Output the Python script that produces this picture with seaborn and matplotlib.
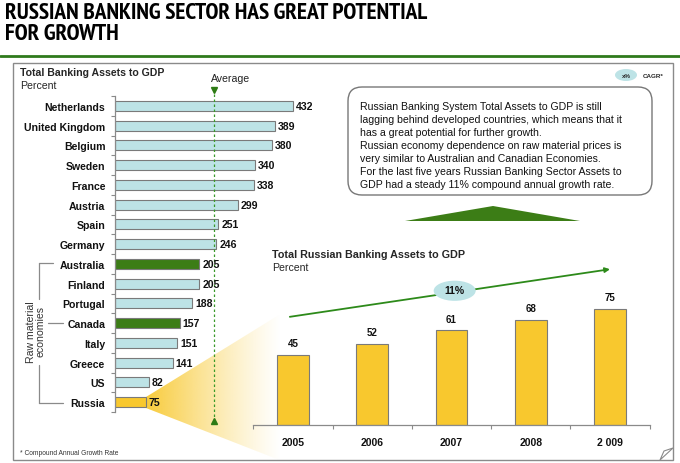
import numpy as np
import matplotlib
matplotlib.use('Agg')
import matplotlib.pyplot as plt
import seaborn as sns
from matplotlib.patches import Ellipse, FancyBboxPatch, Rectangle, Polygon
from matplotlib import font_manager

# data
countries = ['Netherlands', 'United Kingdom', 'Belgium', 'Sweden', 'France', 'Austria',
             'Spain', 'Germany', 'Australia', 'Finland', 'Portugal', 'Canada', 'Italy',
             'Greece', 'US', 'Russia']
assets_gdp = [432, 389, 380, 340, 338, 299, 251, 246, 205, 205, 188, 157, 151, 141, 82, 75]
raw_material = ['Australia', 'Canada']
average_value = 240

years = ['2005', '2006', '2007', '2008', '2 009']
russia_assets = [45, 52, 61, 68, 75]
cagr_label = '11%'

sns.set_style('white')
plt.rcParams['font.family'] = ['Liberation Sans', 'DejaVu Sans']

# condensed bold face for the headline, if one is installed
bold_faces = {f.name for f in font_manager.fontManager.ttflist if f.weight in (700, 'bold')}
narrow = 'Liberation Sans'
for cand in ['Liberation Sans Narrow', 'Arial Narrow', 'Archivo Narrow', 'PT Sans Narrow',
             'Roboto Condensed', 'Open Sans Condensed', 'IBM Plex Sans Condensed',
             'Sofia Sans Condensed', 'Barlow Condensed']:
    if cand in bold_faces:
        narrow = cand
        break

BLUE = '#bde3e6'
GREEN = '#3c7d16'
YELLOW = '#f8c82e'
EDGE = '#7a7a7a'
DARK = '#111111'

W, H = 680, 464
fig = plt.figure(figsize=(6.8, 4.64), dpi=100)


def px_axes(x0, y0, x1, y1):
    return fig.add_axes([x0 / W, 1 - y1 / H, (x1 - x0) / W, (y1 - y0) / H])


# overlay in pixel coordinates
ov = fig.add_axes([0, 0, 1, 1])
ov.set_xlim(0, W)
ov.set_ylim(H, 0)
ov.axis('off')

ov.text(5, 3, 'RUSSIAN BANKING SECTOR HAS GREAT POTENTIAL\nFOR GROWTH', va='top',
        ha='left', fontsize=16.8, fontweight='bold', linespacing=1.0,
        family=[narrow, 'Liberation Sans'], color='black')
ov.plot([0, W], [57, 57], color='#2f7a1c', lw=2)

# outer panel
ov.add_patch(Rectangle((13, 64), 660, 397, fill=False, edgecolor='#8a8a8a', lw=1))
ov.add_patch(Polygon([(660, 461), (673, 449), (664, 452)], closed=True,
                     facecolor='white', edgecolor='#8a8a8a', lw=0.8))

# yellow fan from Russia bar to right chart
grad = np.zeros((2, 200, 4))
grad[..., :3] = matplotlib.colors.to_rgb(YELLOW)
grad[..., 3] = np.linspace(0.95, 0.0, 200) ** 1.2
fan = Polygon([(146, 398), (146, 409), (282, 462), (282, 314)], closed=True,
              facecolor='none', edgecolor='none')
ov.add_patch(fan)
im = ov.imshow(grad, extent=(146, 282, 462, 314), aspect='auto', interpolation='bilinear')
im.set_clip_path(fan)

# left chart titles
ov.text(20, 73, 'Total Banking Assets to GDP', fontsize=7.6, fontweight='bold', va='center')
ov.text(20, 86, 'Percent', fontsize=7.6, va='center')
ov.text(211, 79, 'Average', fontsize=7.6, va='center', color='#222222')

# bracket for raw material economies
bc = '#8a8a8a'
ov.plot([39, 39], [264, 300], color=bc, lw=0.9)
ov.plot([39, 39], [366, 404], color=bc, lw=0.9)
ov.plot([39, 53], [264, 264], color=bc, lw=0.9)
ov.plot([39, 63], [404, 404], color=bc, lw=0.9)
ov.plot([48, 63], [324, 324], color=bc, lw=0.9)
ov.text(36, 332, 'Raw material\neconomies', rotation=90, ha='center', va='center',
        fontsize=7.6, linespacing=1.0, color='#333333')

# text box
ov.add_patch(FancyBboxPatch((348, 88), 304, 108, boxstyle='round,pad=0,rounding_size=14',
                            facecolor='white', edgecolor='#777777', lw=1))
msg = ('Russian Banking System Total Assets to GDP is still\n'
       'lagging behind developed countries, which means that it\n'
       'has a great potential for further growth.\n'
       'Russian economy dependence on raw material prices is\n'
       'very similar to Australian and Canadian Economies.\n'
       'For the last five years Russian Banking Sector Assets to\n'
       'GDP had a steady 11% compound annual growth rate.')
ov.text(360, 102, msg, fontsize=7.55, va='top', ha='left', linespacing=1.37, color='#111111')
ov.add_patch(Polygon([(405, 222), (493, 207), (580, 222)], closed=True, facecolor=GREEN,
                     edgecolor='none'))

# CAGR legend
ov.add_patch(Ellipse((626, 76), 22, 12, facecolor=BLUE, edgecolor='none'))
ov.text(626, 76.5, 'x%', fontsize=4.5, fontweight='bold', ha='center', va='center')
ov.text(643, 76.5, 'CAGR*', fontsize=4.5, fontweight='bold', ha='left', va='center')

ov.text(20, 454, '* Compound Annual Growth Rate', fontsize=4.8, va='center', color='#333333')

# right chart titles
ov.text(272, 255, 'Total Russian Banking Assets to GDP', fontsize=7.75, fontweight='bold',
        va='center')
ov.text(272, 268, 'Percent', fontsize=7.6, va='center')

# ---- left bar chart ----
axL = px_axes(115, 97, 115 + 0.412 * 500, 413)
axL.patch.set_alpha(0)
pal = {c: (GREEN if c in raw_material else YELLOW if c == 'Russia' else BLUE) for c in countries}
sns.barplot(x=assets_gdp, y=countries, hue=countries, palette=pal, orient='h', width=0.5,
            saturation=1, edgecolor=EDGE, linewidth=0.8, legend=False, ax=axL)
axL.set_xlim(0, 500)
axL.set_ylim(15.5, -0.5)
for c in axL.containers:
    axL.bar_label(c, padding=2, fontsize=7.6, fontweight='bold', color=DARK)
for s in ['top', 'right', 'bottom']:
    axL.spines[s].set_visible(False)
axL.spines['left'].set_color('#8a8a8a')
axL.spines['left'].set_linewidth(0.9)
axL.set_xticks([])
axL.set_xlabel('')
axL.set_ylabel('')
axL.set_yticks(np.arange(16.5) - 0.5, minor=True)
axL.tick_params(axis='y', which='major', length=0, pad=7, labelsize=7.6)
axL.tick_params(axis='y', which='minor', left=True, length=3, width=0.8, color='#8a8a8a')
for t in axL.get_yticklabels():
    t.set_fontweight('bold')
    t.set_color(DARK)

# average line
axL.plot([average_value, average_value], [-0.85, 16.0], ls=(0, (2, 2)), color='#3a9a2a',
         lw=0.9, clip_on=False)
axL.plot([average_value], [-0.82], marker='v', color='#2d7a14', ms=5, clip_on=False)
axL.plot([average_value], [15.98], marker='^', color='#2d7a14', ms=5, clip_on=False)

# ---- right bar chart ----
axR = px_axes(253.4, 271, 649.6, 426)
axR.patch.set_alpha(0)
sns.barplot(x=years, y=russia_assets, color=YELLOW, width=0.4, saturation=1, edgecolor=EDGE,
            linewidth=0.8, ax=axR)
axR.set_xlim(-0.5, 4.5)
axR.set_ylim(0, 100)
for c in axR.containers:
    axR.bar_label(c, padding=5, fontsize=7, fontweight='bold', color=DARK)
for s in ['top', 'right', 'left']:
    axR.spines[s].set_visible(False)
axR.spines['bottom'].set_color('#8a8a8a')
axR.spines['bottom'].set_linewidth(0.9)
axR.set_yticks([])
axR.set_xlabel('')
axR.set_ylabel('')
axR.set_xticks(np.arange(5.5) - 0.5, minor=True)
axR.tick_params(axis='x', which='major', length=0, pad=9, labelsize=7.5)
axR.tick_params(axis='x', which='minor', bottom=True, length=3, width=0.8, color='#8a8a8a')
for t in axR.get_xticklabels():
    t.set_fontweight('bold')
    t.set_color(DARK)

# CAGR arrow
axR.annotate('', xy=(4.0, 100.5), xytext=(-0.04, 69.8), annotation_clip=False,
             arrowprops=dict(arrowstyle='-|>', color='#2d8a1a', lw=1.3, mutation_scale=7,
                             shrinkA=0, shrinkB=0))
axR.add_patch(Ellipse((2.04, 86.6), 0.53, 13, facecolor=BLUE, edgecolor='none',
                      clip_on=False, zorder=5))
axR.text(2.04, 86.8, cagr_label, ha='center', va='center', fontsize=7.5, fontweight='bold',
         zorder=6, color=DARK)

fig.savefig('out.png', dpi=100)
